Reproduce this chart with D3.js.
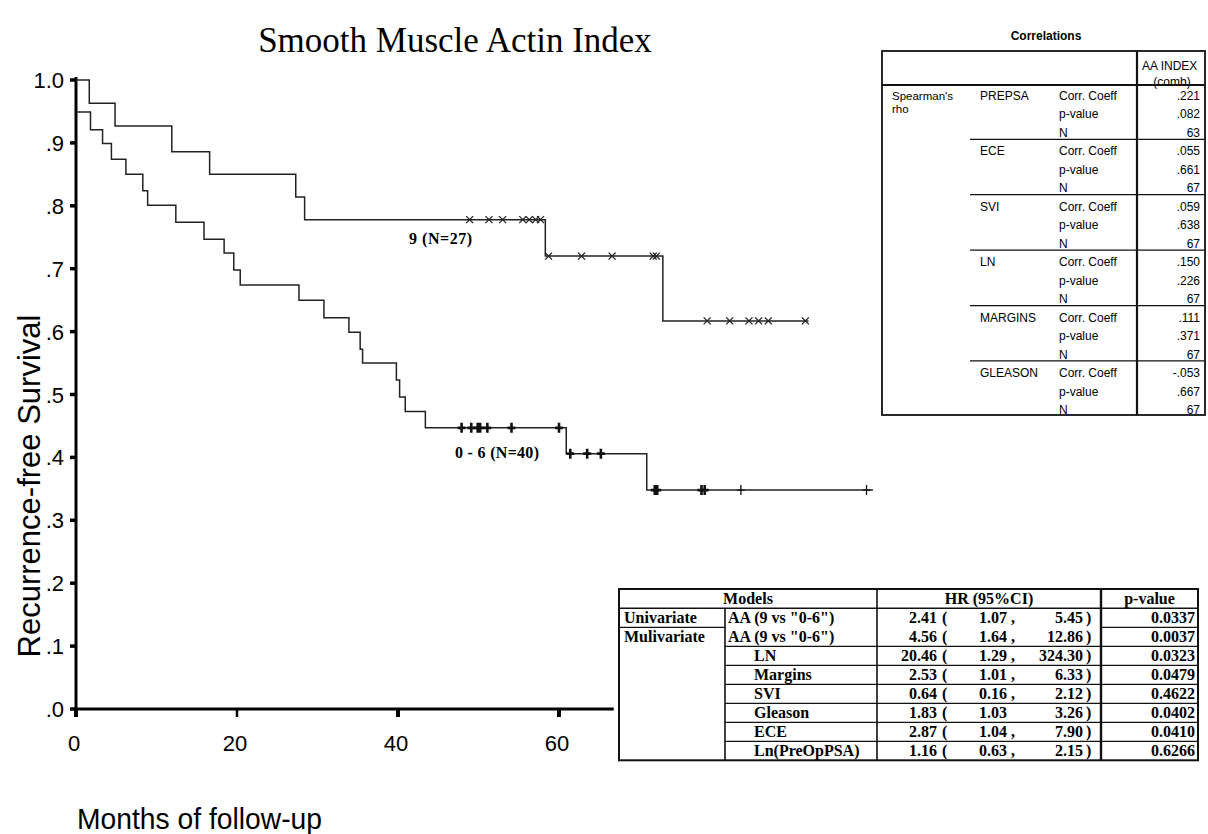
<!DOCTYPE html>
<html>
<head>
<meta charset="utf-8">
<script src="https://cdn.jsdelivr.net/npm/d3@7"></script>
<style>
  body { margin: 0; background: #fff; }
  text { fill: #000; }
</style>
</head>
<body>
<div id="chart"></div>
<script>
// ---- data ----
var xTicks = [0, 20, 40, 60];
var yTicks = [0, .1, .2, .3, .4, .5, .6, .7, .8, .9, 1.0];
var yTickLabels = [".0", ".1", ".2", ".3", ".4", ".5", ".6", ".7", ".8", ".9", "1.0"];

// AA index 9 (N=27)
var highTimes = [0, 1.65, 4.85, 11.9, 16.6, 27.3, 28.4, 58.3, 72.9];
var highSurv = [1.0, 0.963, 0.927, 0.886, 0.850, 0.814, 0.778, 0.720, 0.617];
var highEnd = 91.0;
var highCensored = [48.9, 51.3, 53.0, 55.5, 56.3, 57.1, 57.7, 58.7, 62.8, 66.6, 71.7, 72.1,
    78.4, 81.2, 83.6, 84.8, 86.0, 90.6];

// AA index 0 - 6 (N=40)
var lowTimes = [0, 1.8, 3.3, 4.4, 6.2, 8.3, 8.9, 12.4, 15.9, 18.4, 19.6, 20.4, 27.7, 30.8,
    33.9, 35.3, 35.6, 39.8, 40.2, 40.9, 43.4, 60.9, 70.9];
var lowSurv = [0.949, 0.921, 0.899, 0.874, 0.850, 0.824, 0.801, 0.774, 0.747, 0.725, 0.698,
    0.674, 0.650, 0.622, 0.599, 0.572, 0.550, 0.523, 0.496, 0.473, 0.447, 0.406, 0.348];
var lowEnd = 99.0;
var lowCensored = [47.9, 49.1, 49.9, 50.2, 51.1, 54.1, 60.0, 61.4, 63.5, 65.2,
    71.9, 72.2, 77.7, 78.1, 82.6, 98.2];

// correlations table
var corrVars = ["PREPSA", "ECE", "SVI", "LN", "MARGINS", "GLEASON"];
var corrStats = ["Corr. Coeff", "p-value", "N"];
var corrCoef = [".221", ".055", ".059", ".150", ".111", "-.053"];
var corrP = [".082", ".661", ".638", ".226", ".371", ".667"];
var corrN = ["63", "67", "67", "67", "67", "67"];

// hazard ratio table
var hrModels = ["Univariate", "Mulivariate", "", "", "", "", "", ""];
var hrVars = ['AA (9 vs "0-6")', 'AA (9 vs "0-6")', "LN", "Margins", "SVI", "Gleason", "ECE", "Ln(PreOpPSA)"];
var hrEst = ["2.41", "4.56", "20.46", "2.53", "0.64", "1.83", "2.87", "1.16"];
var hrLow = ["1.07", "1.64", "1.29", "1.01", "0.16", "1.03", "1.04", "0.63"];
var hrComma = [",", ",", ",", ",", ",", "", ",", ","];
var hrHigh = ["5.45", "12.86", "324.30", "6.33", "2.12", "3.26", "7.90", "2.15"];
var hrP = ["0.0337", "0.0037", "0.0323", "0.0479", "0.4622", "0.0402", "0.0410", "0.6266"];

var width = 1208;
var height = 834;

var svg = d3.select("#chart")
    .append("svg")
    .attr("width", width)
    .attr("height", height);

svg.append("rect")
    .attr("width", width)
    .attr("height", height)
    .attr("fill", "#fff");

var x = d3.scaleLinear()
    .domain([0, 60])
    .range([76, 559]);

var y = d3.scaleLinear()
    .domain([0, 1])
    .range([709, 80]);

// Title
svg.append("text")
    .attr("x", 455)
    .attr("y", 52)
    .attr("text-anchor", "middle")
    .style("font-family", "'Liberation Serif', 'Times New Roman', serif")
    .style("font-size", "35px")
    .text("Smooth Muscle Actin Index");

// ---- axes ----
var axisFont = "'Liberation Sans', Arial, sans-serif";

svg.append("line")
    .attr("x1", x(0)).attr("x2", x(0))
    .attr("y1", y(1) - 3).attr("y2", y(0) + 2)
    .attr("stroke", "#000")
    .attr("stroke-width", 3);

svg.append("line")
    .attr("x1", x(0) - 1).attr("x2", x(66.8))
    .attr("y1", y(0)).attr("y2", y(0))
    .attr("stroke", "#000")
    .attr("stroke-width", 3);

// Y ticks
svg.append("g")
    .selectAll("line")
    .data(yTicks)
    .enter()
    .append("line")
    .attr("x1", x(0) - 6).attr("x2", x(0))
    .attr("y1", function (d) { return y(d); })
    .attr("y2", function (d) { return y(d); })
    .attr("stroke", "#000")
    .attr("stroke-width", 3.5);

svg.append("g")
    .selectAll("text")
    .data(yTicks)
    .enter()
    .append("text")
    .attr("x", 64)
    .attr("y", function (d) { return y(d) + 8; })
    .attr("text-anchor", "end")
    .style("font-family", axisFont)
    .style("font-size", "22px")
    .text(function (d, i) { return yTickLabels[i]; });

// X ticks
svg.append("g")
    .selectAll("line")
    .data(xTicks)
    .enter()
    .append("line")
    .attr("x1", function (d) { return x(d); })
    .attr("x2", function (d) { return x(d); })
    .attr("y1", y(0))
    .attr("y2", y(0) + 8)
    .attr("stroke", "#000")
    .attr("stroke-width", function (d, i) { return i == 1 ? 2.5 : 4; });

svg.append("g")
    .selectAll("text")
    .data(xTicks)
    .enter()
    .append("text")
    .attr("x", function (d) { return x(d) - 2; })
    .attr("y", 751)
    .attr("text-anchor", "middle")
    .style("font-family", axisFont)
    .style("font-size", "22px")
    .text(function (d) { return d; });

// X label
svg.append("text")
    .attr("x", 77)
    .attr("y", 829)
    .attr("textLength", 245)
    .attr("lengthAdjust", "spacingAndGlyphs")
    .style("font-family", axisFont)
    .style("font-size", "30px")
    .text("Months of follow-up");

// Y label
svg.append("text")
    .attr("transform", "rotate(-90)")
    .attr("x", -486)
    .attr("y", 40)
    .attr("text-anchor", "middle")
    .style("font-family", axisFont)
    .style("font-size", "31px")
    .text("Recurrence-free Survival");

// ---- survival curves ----
function stepData(times, surv, end) {
    var pts = times.map(function (t, i) { return [t, surv[i]]; });
    pts.push([end, surv[surv.length - 1]]);
    return pts;
}

function survAt(times, surv, t) {
    var v = surv[0];
    for (var i = 0; i < times.length; i++) {
        if (times[i] <= t) v = surv[i];
    }
    return v;
}

var line = d3.line()
    .x(function (d) { return x(d[0]); })
    .y(function (d) { return y(d[1]); })
    .curve(d3.curveStepAfter);

svg.append("path")
    .datum(stepData(highTimes, highSurv, highEnd))
    .attr("d", line)
    .attr("fill", "none")
    .attr("stroke", "#222")
    .attr("stroke-width", 1.5);

svg.append("path")
    .datum(stepData(lowTimes, lowSurv, lowEnd))
    .attr("d", line)
    .attr("fill", "none")
    .attr("stroke", "#222")
    .attr("stroke-width", 1.5);

// censored: x marks for upper group
svg.append("g")
    .selectAll("path")
    .data(highCensored)
    .enter()
    .append("path")
    .attr("d", function (d) {
        var cx = x(d), cy = y(survAt(highTimes, highSurv, d));
        return "M" + (cx - 3.5) + "," + (cy - 3.5) + "L" + (cx + 3.5) + "," + (cy + 3.5) +
            "M" + (cx - 3.5) + "," + (cy + 3.5) + "L" + (cx + 3.5) + "," + (cy - 3.5);
    })
    .attr("stroke", "#222")
    .attr("stroke-width", 1.3)
    .attr("fill", "none");

// censored: + marks for lower group
svg.append("g")
    .selectAll("path")
    .data(lowCensored)
    .enter()
    .append("path")
    .attr("d", function (d) {
        var cx = x(d), cy = y(survAt(lowTimes, lowSurv, d));
        return "M" + cx + "," + (cy - 5) + "L" + cx + "," + (cy + 5) +
            "M" + (cx - 4) + "," + cy + "L" + (cx + 4) + "," + cy;
    })
    .attr("stroke", "#111")
    .attr("stroke-width", function (d, i) { return i >= 14 ? 1.3 : 2.6; })
    .attr("fill", "none");

// group labels
var serif = "'Liberation Serif', 'Times New Roman', serif";
svg.append("text")
    .attr("x", 409)
    .attr("y", 244)
    .attr("textLength", 63)
    .style("font-family", serif)
    .style("font-weight", "bold")
    .style("font-size", "16px")
    .text("9 (N=27)");

svg.append("text")
    .attr("x", 455)
    .attr("y", 458)
    .attr("textLength", 84)
    .style("font-family", serif)
    .style("font-weight", "bold")
    .style("font-size", "16px")
    .text("0 - 6 (N=40)");

// ---- Correlations table ----
var sans = "'Liberation Sans', Arial, sans-serif";
var ct = { left: 882, right: 1205, top: 51, bottom: 415, div: 1137, head: 85, col2: 970 };
var rowStep = 18.47;

svg.append("text")
    .attr("x", 1046).attr("y", 40)
    .attr("text-anchor", "middle")
    .style("font-family", sans)
    .style("font-weight", "bold")
    .style("font-size", "12px")
    .text("Correlations");

svg.append("text")
    .attr("x", 1142).attr("y", 70)
    .style("font-family", sans)
    .style("font-size", "12px")
    .text("AA INDEX");

svg.append("text")
    .attr("x", 1172).attr("y", 86)
    .attr("text-anchor", "middle")
    .style("font-family", sans)
    .style("font-size", "12px")
    .text("(comb)");

svg.append("rect")
    .attr("x", ct.left).attr("y", ct.top)
    .attr("width", ct.right - ct.left)
    .attr("height", ct.bottom - ct.top)
    .attr("fill", "none")
    .attr("stroke", "#111")
    .attr("stroke-width", 1.8);

svg.append("line")
    .attr("x1", ct.div).attr("x2", ct.div)
    .attr("y1", ct.top).attr("y2", ct.bottom)
    .attr("stroke", "#111").attr("stroke-width", 2.2);

svg.append("line")
    .attr("x1", ct.left).attr("x2", ct.right)
    .attr("y1", ct.head).attr("y2", ct.head)
    .attr("stroke", "#111").attr("stroke-width", 1.8);

svg.append("g")
    .selectAll("line")
    .data(corrVars.slice(1))
    .enter()
    .append("line")
    .attr("x1", ct.col2).attr("x2", ct.right)
    .attr("y1", function (d, i) { return 139.3 + i * rowStep * 3; })
    .attr("y2", function (d, i) { return 139.3 + i * rowStep * 3; })
    .attr("stroke", "#111").attr("stroke-width", 1.3);

svg.append("text")
    .attr("x", 892).attr("y", 100)
    .style("font-family", sans).style("font-size", "11.5px")
    .text("Spearman's");
svg.append("text")
    .attr("x", 892).attr("y", 113)
    .style("font-family", sans).style("font-size", "11.5px")
    .text("rho");

var corrRows = svg.append("g")
    .selectAll("g")
    .data(corrVars)
    .enter()
    .append("g")
    .attr("transform", function (d, i) { return "translate(0," + (100 + i * rowStep * 3) + ")"; });

corrRows.append("text")
    .attr("x", 980)
    .style("font-family", sans).style("font-size", "12px")
    .text(function (d) { return d; });

corrStats.forEach(function (s, k) {
    corrRows.append("text")
        .attr("x", 1059)
        .attr("y", k * rowStep)
        .style("font-family", sans).style("font-size", "12px")
        .text(s);
    corrRows.append("text")
        .attr("x", 1200)
        .attr("y", k * rowStep)
        .attr("text-anchor", "end")
        .style("font-family", sans).style("font-size", "12px")
        .text(function (d, i) { return [corrCoef, corrP, corrN][k][i]; });
});

// ---- Hazard ratio table ----
var ht = { left: 619, right: 1198, top: 589, head: 608.3, row: 19, c1: 725, c2: 877, c3: 1101 };
var htBottom = ht.head + ht.row * hrVars.length;
var tb = { "font-family": serif, "font-weight": "bold", "font-size": "16px" };

function tstyle(sel) {
    for (var k in tb) sel.style(k, tb[k]);
    return sel;
}

svg.append("rect")
    .attr("x", ht.left).attr("y", ht.top)
    .attr("width", ht.right - ht.left)
    .attr("height", htBottom - ht.top)
    .attr("fill", "none")
    .attr("stroke", "#111").attr("stroke-width", 2);

svg.append("line")
    .attr("x1", ht.left).attr("x2", ht.right)
    .attr("y1", ht.head).attr("y2", ht.head)
    .attr("stroke", "#111").attr("stroke-width", 1.6);

[[ht.c1, ht.head], [ht.c2, ht.top], [ht.c3, ht.top]].forEach(function (c) {
    svg.append("line")
        .attr("x1", c[0]).attr("x2", c[0])
        .attr("y1", c[1]).attr("y2", htBottom)
        .attr("stroke", "#111").attr("stroke-width", c[0] == ht.c3 ? 2.4 : 1.6);
});

// row separators
svg.append("g")
    .selectAll("line")
    .data(hrVars.slice(0, -1))
    .enter()
    .append("line")
    .attr("x1", function (d, i) { return i == 0 ? ht.left : ht.c1; })
    .attr("x2", function (d, i) { return i == 0 ? ht.c1 : ht.right; })
    .attr("y1", function (d, i) { return ht.head + (i + 1) * ht.row; })
    .attr("y2", function (d, i) { return ht.head + (i + 1) * ht.row; })
    .attr("stroke", "#111").attr("stroke-width", 1.3);

svg.append("line")
    .attr("x1", ht.c3).attr("x2", ht.right)
    .attr("y1", ht.head + ht.row).attr("y2", ht.head + ht.row)
    .attr("stroke", "#111").attr("stroke-width", 1.3);

tstyle(svg.append("text")).attr("x", (ht.left + ht.c2) / 2).attr("y", 604)
    .attr("text-anchor", "middle").text("Models");
tstyle(svg.append("text")).attr("x", (ht.c2 + ht.c3) / 2).attr("y", 604)
    .attr("text-anchor", "middle").text("HR (95%CI)");
tstyle(svg.append("text")).attr("x", (ht.c3 + ht.right) / 2).attr("y", 604)
    .attr("text-anchor", "middle").text("p-value");

var hrRows = svg.append("g")
    .selectAll("g")
    .data(hrVars)
    .enter()
    .append("g")
    .attr("transform", function (d, i) { return "translate(0," + (ht.head + i * ht.row + 15) + ")"; });

tstyle(hrRows.append("text")).attr("x", 624).text(function (d, i) { return hrModels[i]; });
tstyle(hrRows.append("text"))
    .attr("x", function (d, i) { return i < 2 ? 728 : 754; })
    .text(function (d) { return d; });
tstyle(hrRows.append("text")).attr("x", 937).attr("text-anchor", "end")
    .text(function (d, i) { return hrEst[i]; });
tstyle(hrRows.append("text")).attr("x", 942).text("(");
tstyle(hrRows.append("text")).attr("x", 1007).attr("text-anchor", "end")
    .text(function (d, i) { return hrLow[i]; });
tstyle(hrRows.append("text")).attr("x", 1011).text(function (d, i) { return hrComma[i]; });
tstyle(hrRows.append("text")).attr("x", 1083).attr("text-anchor", "end")
    .text(function (d, i) { return hrHigh[i]; });
tstyle(hrRows.append("text")).attr("x", 1086).text(")");
tstyle(hrRows.append("text")).attr("x", 1195).attr("text-anchor", "end")
    .text(function (d, i) { return hrP[i]; });
</script>
</body>
</html>
